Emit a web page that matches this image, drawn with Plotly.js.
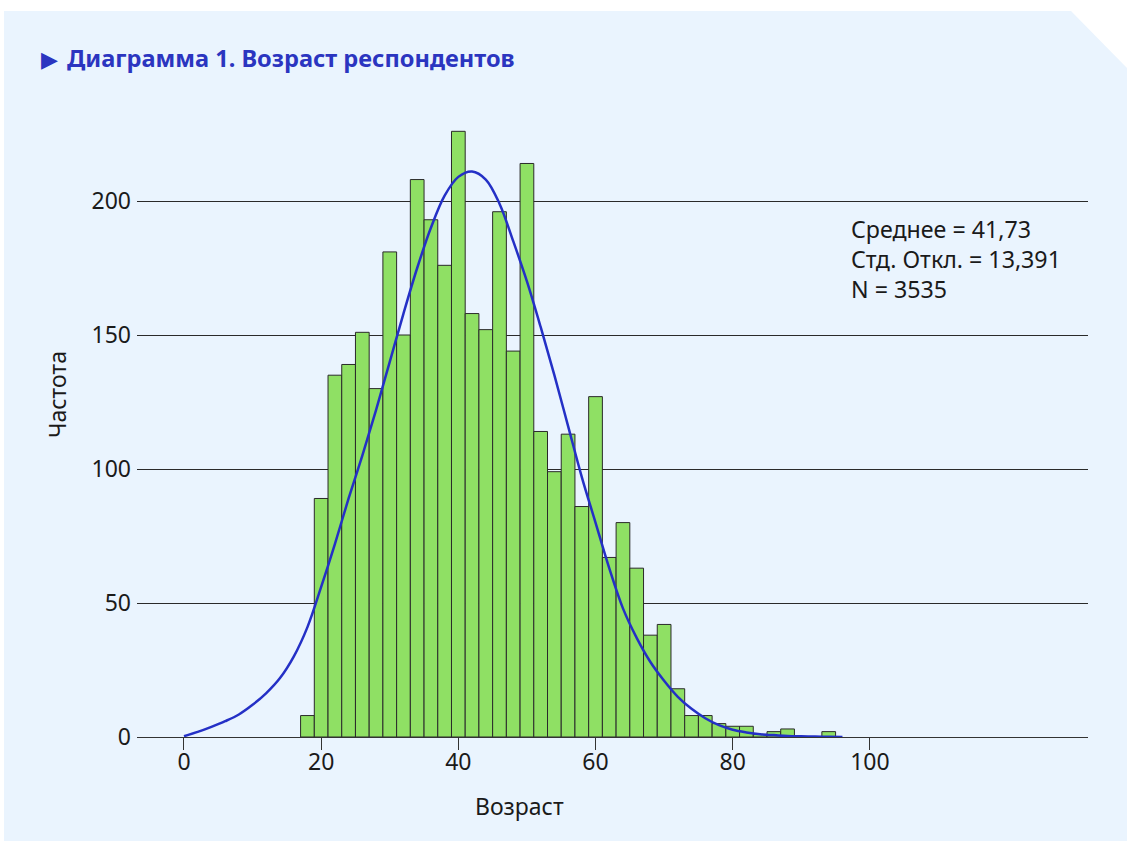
<!DOCTYPE html>
<html>
<head>
<meta charset="utf-8">
<script src="https://cdn.plot.ly/plotly-3.0.1.min.js"></script>
<style>
  html, body { margin: 0; padding: 0; background: #ffffff; }
  #bg {
    position: absolute; left: 4px; top: 11px; width: 1123px; height: 830px;
    background: #EAF4FE;
    clip-path: polygon(0 0, 1067px 0, 100% 57px, 100% 100%, 0 100%);
  }
  #chart { position: absolute; left: 0; top: 0; width: 1127px; height: 842px; }
</style>
</head>
<body>
<div id="bg"></div>
<div id="chart"></div>
<script>
// Histogram bins (centres, width 2 years) and frequencies
const binCenters = [18, 20, 22, 24, 26, 28, 30, 32, 34, 36, 38, 40, 42, 44, 46, 48, 50, 52, 54, 56,
                    58, 60, 62, 64, 66, 68, 70, 72, 74, 76, 78, 80, 82, 84, 86, 88, 90, 92, 94];
const frequencies = [8, 89, 135, 139, 151, 130, 181, 150, 208, 193, 176, 226, 158, 152, 196, 144, 214, 114, 99, 113,
                     86, 127, 67, 80, 63, 38, 42, 18, 8, 8, 5, 4, 4, 1, 2, 3, 0, 0, 2];

// Normal curve
const curveAges   = [0, 2, 4, 6, 8, 10, 12, 14, 16, 18, 20, 22, 24, 26, 28, 30, 32, 34, 36, 38, 40, 42,
                     44, 46, 48, 50, 52, 54, 56, 58, 60, 62, 64, 66, 68, 70, 72, 74, 76, 78, 80, 82, 84,
                     86, 88, 90, 92, 94, 96];
const curveValues = [0.3, 1.9, 3.8, 5.9, 8.4, 12.0, 16.4, 22, 30, 41, 56, 72, 89, 105, 122, 140, 158, 175, 190, 202, 209, 211,
                     208, 199, 185, 170, 153, 135, 116, 97, 80, 63, 48, 37, 28, 21, 15, 10.5, 7, 4.4, 2.7, 1.7, 1.0,
                     0.7, 0.4, 0.25, 0.15, 0.05, 0];

const xTicks = [0, 20, 40, 60, 80, 100];
const yTicks = [0, 50, 100, 150, 200];
const statsLines = ["Среднее = 41,73", "Стд. Откл. = 13,391", "N = 3535"];
const titleMarker = "▶";
const chartTitle = "Диаграмма 1. Возраст респондентов";
const xTitle = "Возраст";
const yTitle = "Частота";

const FONT = "Noto Sans, Open Sans, sans-serif";
const FS = 23;
const W = 1127, H = 842;
const L = 137, R = 39, T = 53, B = 105;
const pw = W - L - R, ph = H - T - B;
const px = x => (x - L) / pw;
const py = y => 1 - (y - T) / ph;

const traces = [
  {
    type: 'bar', x: binCenters, y: frequencies, width: 2,
    marker: { color: '#8FE064', line: { color: '#2a2a2a', width: 1 } },
    hoverinfo: 'x+y'
  },
  {
    type: 'scatter', mode: 'lines', x: curveAges, y: curveValues,
    line: { color: '#2430C6', width: 2.5, shape: 'spline', smoothing: 1 },
    hoverinfo: 'skip'
  }
];

const annotations = [
  { text: titleMarker, xref: 'paper', yref: 'paper', x: px(39), y: py(59), xanchor: 'left', yanchor: 'middle',
    showarrow: false, font: { family: "DejaVu Sans, sans-serif", size: 22, color: '#2B35C0' } },
  { text: xTitle, xref: 'paper', yref: 'paper', x: px(519), y: py(806), xanchor: 'center', yanchor: 'middle',
    showarrow: false, font: { family: FONT, size: FS, color: '#1a1a1a' } },
  { text: yTitle, xref: 'paper', yref: 'paper', x: px(57), y: py(395), xanchor: 'center', yanchor: 'middle',
    textangle: -90, showarrow: false, font: { family: FONT, size: FS, color: '#1a1a1a' } },
  { text: statsLines.join('<br>'), xref: 'paper', yref: 'paper', x: px(849), y: py(259), xanchor: 'left', yanchor: 'middle',
    align: 'left', showarrow: false, font: { family: FONT, size: 23.2, color: '#1a1a1a' } }
];

const layout = {
  width: W, height: H,
  margin: { l: L, r: R, t: T, b: B, pad: 0 },
  paper_bgcolor: 'rgba(0,0,0,0)',
  plot_bgcolor: 'rgba(0,0,0,0)',
  showlegend: false,
  bargap: 0,
  title: {
    text: '<b>' + chartTitle + '</b>',
    xref: 'container', yref: 'container', x: 67 / W, xanchor: 'left',
    y: 1 - 59 / H, yanchor: 'middle',
    font: { family: FONT, size: 23.6, color: '#2B35C0' }
  },
  xaxis: {
    range: [-6.85, 131.8], tickvals: xTicks, ticktext: xTicks.map(String),
    ticks: 'outside', ticklen: 12, tickcolor: '#333', tickwidth: 1,
    ticklabelstandoff: -8,
    showgrid: false, zeroline: false, showline: true, linecolor: '#333', linewidth: 1,
    tickfont: { family: FONT, size: FS, color: '#1a1a1a' }, fixedrange: true
  },
  yaxis: {
    range: [0, (H - B - T) / 2.68], tickvals: yTicks, ticktext: yTicks.map(String),
    ticks: '', showgrid: true, gridcolor: '#2a2a2a', gridwidth: 1,
    ticklabelstandoff: 5,
    zeroline: false, showline: false,
    tickfont: { family: FONT, size: FS, color: '#1a1a1a' }, fixedrange: true
  },
  annotations: annotations
};

Plotly.newPlot('chart', traces, layout, { displayModeBar: false, staticPlot: true });
</script>
</body>
</html>
